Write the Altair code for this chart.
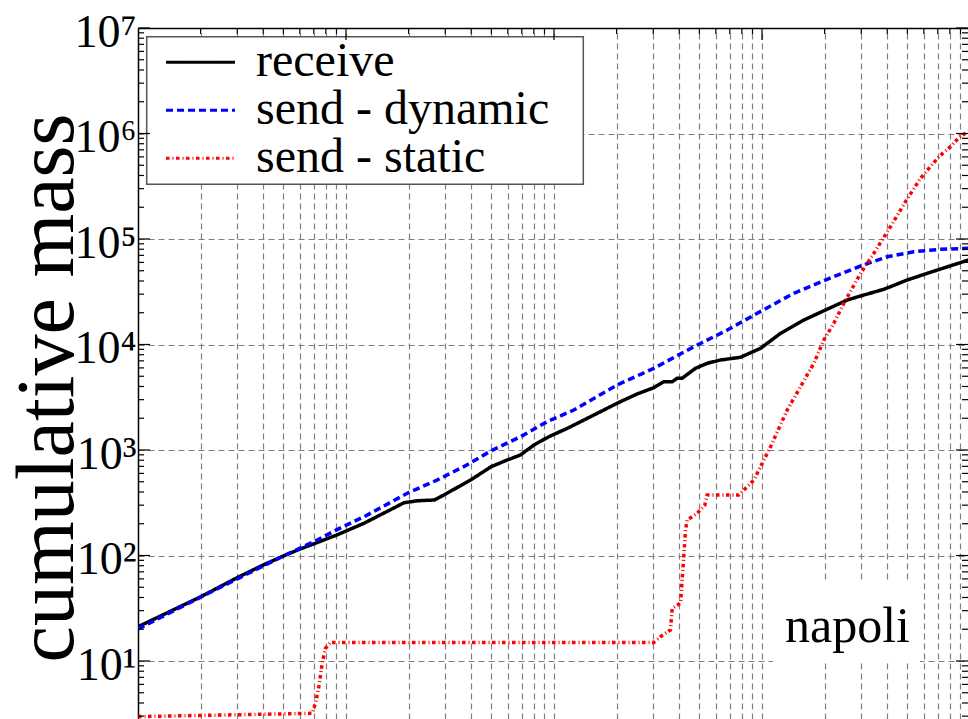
import altair as alt
import pandas as pd

# ---- series data (log-log cumulative mass) ----
series_names = ["receive", "send - dynamic", "send - static"]

receive_x = [1, 2.0, 3.0, 4.0, 5.0, 6.0, 7.0, 9.0, 12.2, 19.0, 22.0, 26.6, 29.5, 39.7,
             49.9, 59.6, 69.0, 80.0, 94.4, 116, 150, 201, 251, 302, 337, 370, 391, 413,
             479, 545, 631, 788, 984, 1228, 1589, 2057, 2569, 2978, 3853, 4989, 6224, 9840]
receive_y = [21.1, 40.6, 61.7, 81.3, 98.9, 115, 129, 156, 202, 316, 330, 336, 374, 519,
             695, 804, 897, 1114, 1336, 1606, 2070, 2773, 3397, 3898, 4439, 4439, 4786, 4786,
             5946, 6633, 7129, 7565, 9204, 12770, 17070, 21570, 26420, 28840, 33360, 40840,
             47270, 63240]

dynamic_x = [1, 2.0, 5.0, 7.0, 9.0, 12.2, 19.7, 27.4, 36.8, 49.9, 69.0, 92.7, 124.5, 201,
             302, 470, 681, 948, 1422, 2057, 2978, 4000, 5370, 7211, 9840]
dynamic_y = [20.1, 40.3, 99, 135, 175, 233, 389, 519, 695, 984, 1336, 1854, 2393, 4130,
             5946, 9520, 13700, 19760, 30540, 41500, 55460, 67900, 75800, 79800, 81600]

static_x = [1, 6.88, 7.13, 7.40, 7.68, 7.97, 8.42, 302, 325, 363, 370, 406, 413, 421, 429,
            437, 488, 531, 545, 773, 914, 1099, 1322, 1531, 1775, 1983, 2215, 2474, 2978,
            3451, 4150, 4898, 5780, 7083, 8057, 8997, 9840]
static_y = [2.97, 3.19, 3.97, 5.70, 9.5, 13.2, 15.0, 15.0, 17.0, 19.7, 31.6, 35.3, 58.6,
            101, 175, 217, 251, 301, 374, 374, 519, 1074, 2393, 3981, 6633, 11040, 15900,
            24600, 47270, 73300, 131000, 226000, 376000, 602000, 750000, 946000, 1040000]

series_colors = ["#000000", "#0000ff", "#ff0000"]
series_dashes = [[1, 0], [7, 4], [3.5, 3, 1, 2.5]]

rows = []
for name, xs, ys in zip(series_names, [receive_x, dynamic_x, static_x],
                        [receive_y, dynamic_y, static_y]):
    for i, (xv, yv) in enumerate(zip(xs, ys)):
        rows.append({"series": name, "t": xv, "mass": yv, "order": i})
df = pd.DataFrame(rows)

# ---- geometry of the plot area ----
W, H = 830, 691
x_dom = [1, 10 ** (W / 208.0)]
y_dom = [10 ** (7 - H / 105.5), 1e7]

x_grid = [m * 10 ** k for k in range(0, 4) for m in range(1, 10)
          if x_dom[0] < m * 10 ** k <= x_dom[1]]
x_major = [10, 100, 1000]
x_minor = [v for v in x_grid if v not in x_major]

y_major = [10 ** k for k in range(1, 8)]
y_minor = [m * 10 ** k for k in range(0, 7) for m in range(2, 10)
           if y_dom[0] <= m * 10 ** k <= y_dom[1]]

xscale = alt.Scale(type="log", domain=x_dom, nice=False)
yscale = alt.Scale(type="log", domain=y_dom, nice=False)

SERIF = "Liberation Serif"
GRID = dict(grid=True, gridColor="#7f7f7f", gridDash=[6, 4], gridWidth=1.2)

x_axis = alt.Axis(orient="top", values=x_grid, labels=False, ticks=False, title=None,
                  domain=True, domainColor="black", domainWidth=1.5, **GRID)
y_axis = alt.Axis(
    orient="left", values=y_major, ticks=False, domain=True, domainColor="black",
    domainWidth=1.5,
    labelExpr="'10' + ['⁰','¹','²','³','⁴','⁵','⁶','⁷'][round(log(datum.value)/LN10)]",
    labelFont=SERIF, labelFontSize=46, labelColor="black", labelPadding=2,
    labelOverlap=False, labelFlush=False, labelOffset=4,
    title="cumulative mass", titleFont=SERIF, titleFontSize=82, titleFontWeight="normal",
    titleColor="black", titleAngle=270, titleX=-66, titleY=359.5, titleAlign="center",
    titleBaseline="alphabetic",
    **GRID,
)

X = alt.X("t:Q", scale=xscale, axis=x_axis)
Y = alt.Y("mass:Q", scale=yscale, axis=y_axis)

legend = alt.Legend(
    title=None, orient="none", legendX=38.5, legendY=10.3, padding=0, zindex=1,
    symbolType="M-2,0H2", symbolSize=1190, symbolStrokeWidth=3, symbolOffset=0,
    labelFont=SERIF, labelFontSize=48, labelColor="black", labelOffset=31.5,
    labelLimit=600, rowPadding=0,
)

lines = alt.Chart(df).mark_line(strokeWidth=3.5, clip=True).encode(
    x=X,
    y=Y,
    color=alt.Color("series:N", scale=alt.Scale(domain=series_names, range=series_colors),
                    legend=legend),
    strokeDash=alt.StrokeDash("series:N",
                              scale=alt.Scale(domain=series_names, range=series_dashes),
                              legend=legend),
    order="order:Q",
)

one = pd.DataFrame({"k": [0]})

# legend frame
legend_box = alt.Chart(one).mark_rect(fill="white", stroke="#555555", strokeWidth=1.5).encode(
    x=alt.value(8.7), x2=alt.value(445.3), y=alt.value(8.7), y2=alt.value(156.3)
)

# panel label with white backing
label_box = alt.Chart(one).mark_rect(fill="white").encode(
    x=alt.value(635), x2=alt.value(782), y=alt.value(555), y2=alt.value(634)
)
label_text = alt.Chart(one).mark_text(
    text="napoli", font=SERIF, fontSize=50, align="left", baseline="alphabetic", color="black"
).encode(x=alt.value(647), y=alt.value(613.7))

# inward ticks on top, left and right spines
def xticks(vals, length):
    return alt.Chart(pd.DataFrame({"t": vals})).mark_rule(color="black", strokeWidth=1.2).encode(
        x=X, y=alt.value(0), y2=alt.value(length))

def yticks(vals, length, right=False):
    x0 = W if right else 0
    x1 = W - length if right else length
    return alt.Chart(pd.DataFrame({"mass": vals})).mark_rule(color="black", strokeWidth=1.2).encode(
        y=Y, x=alt.value(x0), x2=alt.value(x1))

chart = alt.layer(
    lines, legend_box, label_box, label_text,
    xticks(x_minor, 6), xticks(x_major, 12),
    yticks(y_minor, 6), yticks(y_major, 12),
    yticks(y_minor, 6, right=True), yticks(y_major, 12, right=True),
).properties(
    width=W, height=H,
    padding={"left": 138, "top": 28, "right": 0, "bottom": 0},
    autosize=alt.AutoSizeParams(type="none"),
    background="white",
).configure_view(stroke=None)

chart.save("out.html", embed_options={"renderer": "svg", "actions": False})
